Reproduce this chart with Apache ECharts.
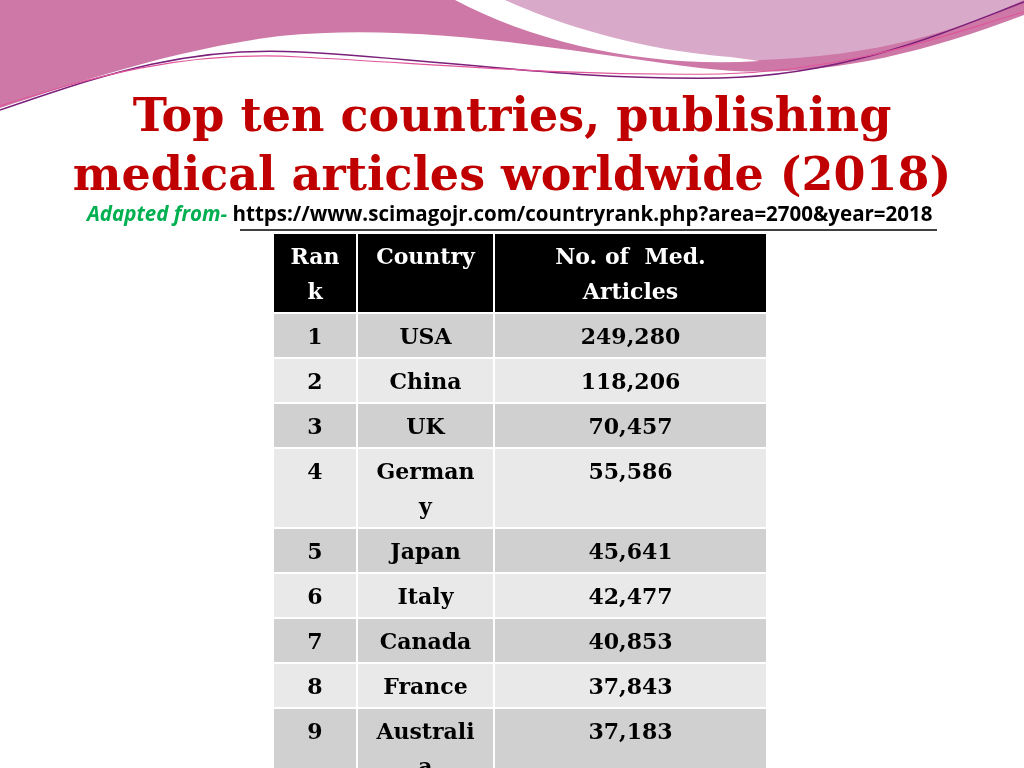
<!DOCTYPE html>
<html><head><meta charset="utf-8">
<script src="https://cdn.jsdelivr.net/npm/echarts@6/dist/echarts.min.js"></script>
<style>html,body{margin:0;padding:0;background:#fff}#c{width:1024px;height:768px}</style>
</head><body><div id="c"></div>
<script>
const headers = ['Ran\nk', 'Country', 'No. of  Med.\nArticles'];
const ranks = ['1','2','3','4','5','6','7','8','9','10'];
const countries = ['USA','China','UK','German\ny','Japan','Italy','Canada','France','Australi\na','Spain'];
const articles = ['249,280','118,206','70,457','55,586','45,641','42,477','40,853','37,843','37,183','36,000'];

const LINE = 35, PAD = 10;
const lines = s => s.split('\n').length;
const cells = [];
let y = 0;
const allRows = [headers].concat(ranks.map((r,i)=>[r,countries[i],articles[i]]));
allRows.forEach((row, ri) => {
  const n = Math.max(...row.map(lines));
  const h = PAD + LINE * n;
  row.forEach((t, ci) => cells.push([ci, y, y + h, t, ri]));
  y += h;
});

const chart = echarts.init(document.getElementById('c'));
const colEdges = [0, 84, 221, 494];
const decor = [
  {d:'M0,0 L1024,0 L1024,15 C900,62 800,80 700,68 C560,50 420,22 280,36 C170,50 70,85 0,108 Z', fill:'#cd78a6'},
  {d:'M470,0 C560,45 650,62 760,60 C880,56 960,30 1024,0 Z', fill:'#d9a9c9'},
  {d:'M455,0 C540,45 650,68 760,61 L730,57 C640,50 560,25 505,0 Z', fill:'#ffffff'},
  {d:'M0,110 C90,80 180,45 300,52 C450,60 560,80 720,78 C850,75 950,30 1024,2', stroke:'#7a1f7a', w:1.5},
  {d:'M0,106 C90,78 180,50 300,57 C450,65 560,76 720,74 C860,70 960,30 1024,12', stroke:'#e0569a', w:1.2}
];
chart.setOption({
  animation:false,
  graphic:[
    {type:'text',left:'center',top:90,style:{text:'Top ten countries, publishing\nmedical articles worldwide (2018)',font:'bold 46px "DejaVu Serif"',fill:'#c00000',textAlign:'center',lineHeight:59},z:5},
    {type:'text',left:87,top:205,style:{text:'{g|Adapted from- }{u|https://www.scimagojr.com/countryrank.php?area=2700&year=2018}',rich:{g:{font:'italic bold 20.5px "Open Sans"',fill:'#00b050'},u:{font:'bold 20.5px "Open Sans"',fill:'#000'}}},z:5},
    {type:'line',shape:{x1:240,y1:230,x2:937,y2:230},style:{stroke:'#000',lineWidth:1.3},z:5}
  ],
  grid:{left:273,top:233,width:494,height:535},
  xAxis:{type:'value',min:0,max:494,show:false},
  yAxis:{type:'value',min:0,max:535,inverse:true,show:false},
  series:[{
    type:'custom',
    coordinateSystem:'none',
    data:[0],
    silent:true,
    renderItem:() => ({type:'group',children:decor.map(o=>({type:'path',shape:{pathData:o.d},style:{fill:o.fill||null,stroke:o.stroke||null,lineWidth:o.w||0}}))})
  },{
    type:'custom',
    data:cells,
    clip:true,
    encode:{x:0,y:[1,2]},
    renderItem:(params, api) => {
      const ci = api.value(0), ri = api.value(4);
      const p0 = api.coord([colEdges[ci], api.value(1)]);
      const p1 = api.coord([colEdges[ci+1], api.value(2)]);
      const t = cells[params.dataIndex][3];
      const fill = ri === 0 ? '#000' : (ri % 2 === 1 ? '#d0d0d0' : '#e9e9e9');
      return {type:'group',children:[
        {type:'rect',shape:{x:p0[0],y:p0[1],width:p1[0]-p0[0],height:p1[1]-p0[1]},style:{fill:fill,stroke:'#fff',lineWidth:2}},
        {type:'text',style:{text:t,x:(p0[0]+p1[0])/2,y:p0[1]+8,textAlign:'center',textVerticalAlign:'top',font:'bold 22px "DejaVu Serif"',lineHeight:35,fill:ri===0?'#fff':'#000'}}
      ]};
    }
  }]
});
</script></body></html>
